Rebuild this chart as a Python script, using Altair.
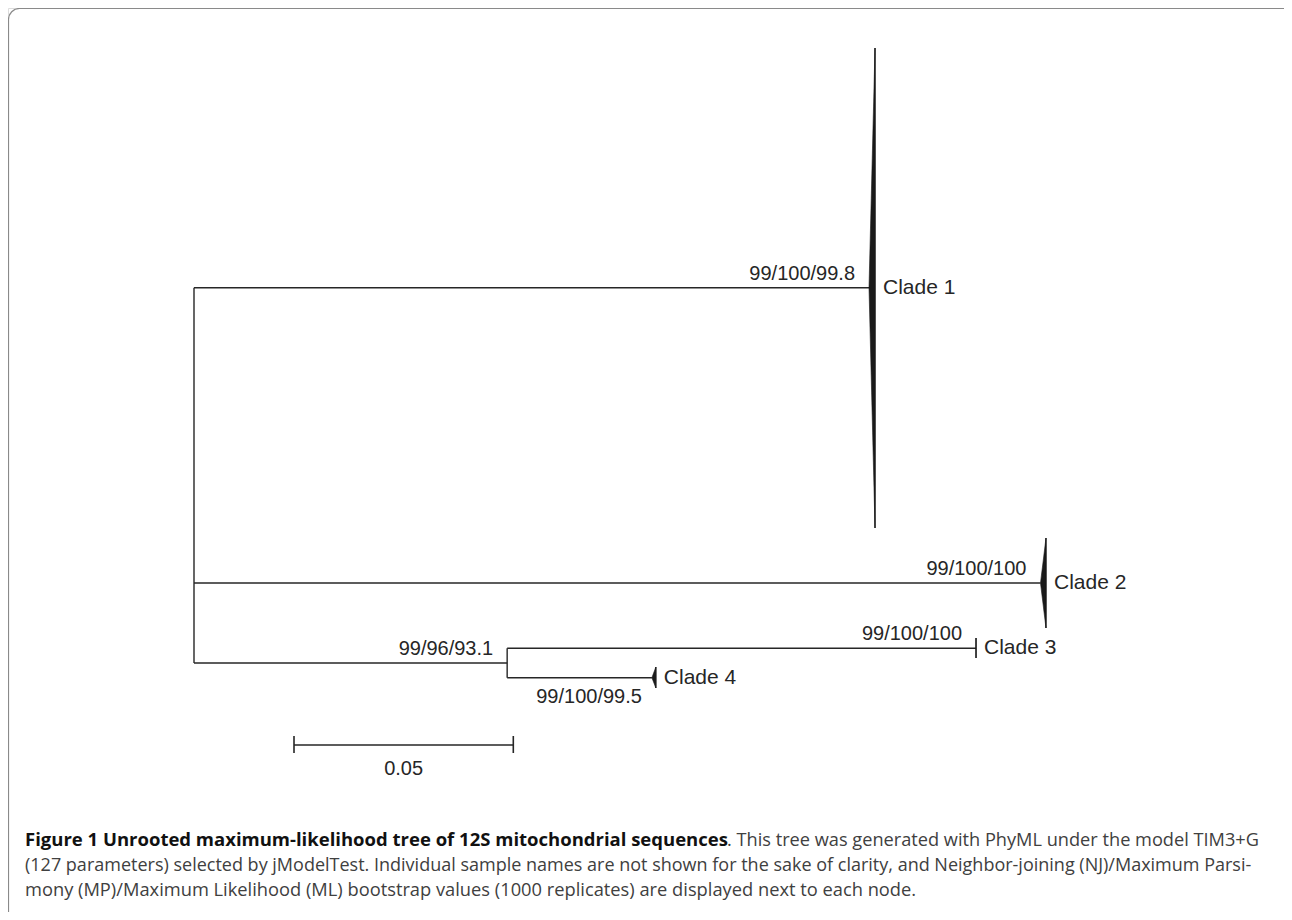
import altair as alt
import pandas as pd

# ---------------- data (tree units: substitutions/site from root; rows: vertical layout units) ----------------
branch_from_x = [0.0, 0.0, 0.0, 0.0714, 0.0714]
branch_to_x = [0.1539, 0.1930, 0.0714, 0.1783, 0.1044]
branch_row = [27.97, 57.5, 65.5, 64.03, 66.97]

node_x = [0.0, 0.0714]
node_row_top = [27.97, 64.03]
node_row_bottom = [65.5, 66.97]

clade_names = ["Clade 1", "Clade 2", "Clade 3", "Clade 4"]
clade_apex_x = [0.1539, 0.1930, 0.1783, 0.1044]
clade_depth = [0.00137, 0.00125, 0.0, 0.0009]
clade_row = [27.97, 57.5, 64.03, 66.97]
clade_row_top = [4.0, 53.0, 63.0, 65.9]
clade_row_bottom = [52.0, 62.0, 65.0, 68.0]

support_labels = ["99/100/99.8", "99/100/100", "99/100/100", "99/96/93.1"]
support_x = [0.1539, 0.1930, 0.1783, 0.0714]
support_row = [27.97, 57.5, 64.03, 65.5]

support_below_labels = ["99/100/99.5"]
support_below_x = [0.1044]
support_below_row = [66.97]

scale_bar_start = [0.0228]
scale_bar_length = [0.05]
scale_bar_row = [73.7]
scale_bar_tick_top = [72.8]
scale_bar_tick_bottom = [74.5]
scale_bar_label = ["0.05"]

caption_bold = "Figure 1 Unrooted maximum-likelihood tree of 12S mitochondrial sequences"
caption_rest = [
    ". This tree was generated with PhyML under the model TIM3+G",
    "(127 parameters) selected by jModelTest. Individual sample names are not shown for the sake of clarity, and Neighbor-joining (NJ)/Maximum Parsi-",
    "mony (MP)/Maximum Likelihood (ML) bootstrap values (1000 replicates) are displayed next to each node.",
]

# ---------------- layout ----------------
W, H = 1276, 904
PX_PER_UNIT = 4386.0
ROOT_PX = 186.0
INK = "#262626"
LABEL_FONT = "Liberation Sans, Arial, Helvetica, sans-serif"
CAPTION_FONT = "Open Sans, Lato, sans-serif"

xs = alt.Scale(domain=[-ROOT_PX / PX_PER_UNIT, (W - ROOT_PX) / PX_PER_UNIT], nice=False, zero=False)
ys = alt.Scale(domain=[0, H / 10.0], reverse=True, nice=False, zero=False)

def X(f):
    return alt.X(f, type="quantitative", scale=xs, axis=None)

def Y(f):
    return alt.Y(f, type="quantitative", scale=ys, axis=None)

branches = pd.DataFrame({"x": branch_from_x, "x2": branch_to_x, "y": branch_row})
nodes = pd.DataFrame({"x": node_x, "y": node_row_top, "y2": node_row_bottom})

wedge_rows = []
for n, ax, d, r, t, b in zip(clade_names, clade_apex_x, clade_depth, clade_row, clade_row_top, clade_row_bottom):
    wedge_rows.append({"clade": n, "x": ax, "y": r, "y2": r})
    wedge_rows.append({"clade": n, "x": ax + d, "y": t, "y2": b})
wedges = pd.DataFrame(wedge_rows)

clades = pd.DataFrame({
    "clade": clade_names,
    "x": [a + d for a, d in zip(clade_apex_x, clade_depth)],
    "y": clade_row,
    "top": clade_row_top,
    "bottom": clade_row_bottom,
})

support = pd.DataFrame({"label": support_labels, "x": support_x, "y": support_row})
support_below = pd.DataFrame({"label": support_below_labels, "x": support_below_x, "y": support_below_row})

sb = pd.DataFrame({
    "x": scale_bar_start,
    "x2": [s + l for s, l in zip(scale_bar_start, scale_bar_length)],
    "xm": [s + l / 2 for s, l in zip(scale_bar_start, scale_bar_length)],
    "y": scale_bar_row,
    "label": scale_bar_label,
})
sb_ticks = pd.DataFrame({
    "x": scale_bar_start + [s + l for s, l in zip(scale_bar_start, scale_bar_length)],
    "t": scale_bar_tick_top * 2,
    "b": scale_bar_tick_bottom * 2,
})

one = pd.DataFrame({"k": [0]})

frame = alt.Chart(one).mark_rect(
    fill=None, stroke="#8a8a8a", strokeWidth=1.2, cornerRadius=11
).encode(x=alt.value(0.5), x2=alt.value(W + 40), y=alt.value(0.5), y2=alt.value(H + 40))

branch_layer = alt.Chart(branches).mark_rule(color=INK, strokeWidth=1.4).encode(
    x=X("x"), x2="x2", y=Y("y"))
node_layer = alt.Chart(nodes).mark_rule(color=INK, strokeWidth=1.4).encode(
    x=X("x"), y=Y("y"), y2="y2")
wedge_layer = alt.Chart(wedges).mark_area(
    orient="vertical", color="#1a1a1a", stroke="#1a1a1a", strokeWidth=0.6, interpolate="linear"
).encode(x=X("x"), y=alt.Y("y", type="quantitative", scale=ys, axis=None, stack=None), y2="y2", detail="clade:N")
edge_layer = alt.Chart(clades).mark_rule(color="#1a1a1a", strokeWidth=1.3).encode(
    x=X("x"), y=Y("top"), y2="bottom")
clade_text = alt.Chart(clades).mark_text(
    align="left", baseline="alphabetic", dx=8, dy=6, fontSize=21, font=LABEL_FONT, color=INK
).encode(x=X("x"), y=Y("y"), text="clade:N")
support_text = alt.Chart(support).mark_text(
    align="right", baseline="alphabetic", dx=-14, dy=-8, fontSize=20, font=LABEL_FONT, color=INK
).encode(x=X("x"), y=Y("y"), text="label:N")
support_below_text = alt.Chart(support_below).mark_text(
    align="right", baseline="alphabetic", dx=-10, dy=25, fontSize=20, font=LABEL_FONT, color=INK
).encode(x=X("x"), y=Y("y"), text="label:N")

sb_line = alt.Chart(sb).mark_rule(color=INK, strokeWidth=1.6).encode(x=X("x"), x2="x2", y=Y("y"))
sb_tick_layer = alt.Chart(sb_ticks).mark_rule(color=INK, strokeWidth=1.6).encode(x=X("x"), y=Y("t"), y2="b")
sb_text = alt.Chart(sb).mark_text(
    align="center", baseline="alphabetic", dy=30, fontSize=20, font=LABEL_FONT, color=INK
).encode(x=X("xm"), y=Y("y"), text="label:N")

cap_bold = alt.Chart(one).mark_text(
    align="left", baseline="alphabetic", fontSize=18.5, fontWeight="bold", font=CAPTION_FONT, color="#111111"
).encode(x=alt.value(17), y=alt.value(838), text=alt.value(caption_bold))
cap1 = alt.Chart(one).mark_text(
    align="left", baseline="alphabetic", fontSize=18.2, font=CAPTION_FONT, color="#404040"
).encode(x=alt.value(719), y=alt.value(838), text=alt.value(caption_rest[0]))
cap2 = alt.Chart(one).mark_text(
    align="left", baseline="alphabetic", fontSize=18, font=CAPTION_FONT, color="#404040"
).encode(x=alt.value(17), y=alt.value(863), text=alt.value(caption_rest[1]))
cap3 = alt.Chart(one).mark_text(
    align="left", baseline="alphabetic", fontSize=18.3, font=CAPTION_FONT, color="#404040"
).encode(x=alt.value(17), y=alt.value(888), text=alt.value(caption_rest[2]))

chart = alt.layer(
    frame, branch_layer, node_layer, wedge_layer, edge_layer, clade_text, support_text,
    support_below_text, sb_line, sb_tick_layer, sb_text, cap_bold, cap1, cap2, cap3
).properties(
    width=W, height=H, padding=0, autosize=alt.AutoSizeParams(type="none")
).configure_view(stroke=None).configure(background="white")

chart.save("out.html", embed_options={"renderer": "svg", "actions": False})
